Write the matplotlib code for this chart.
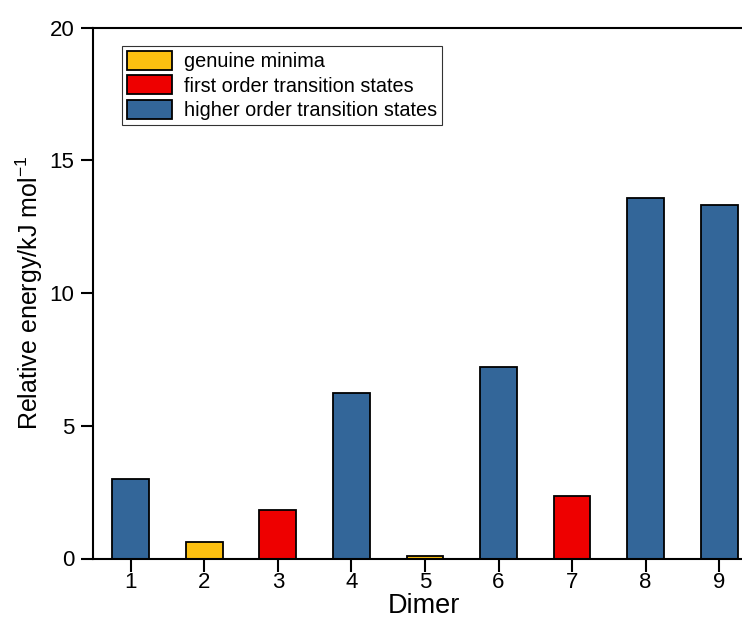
import numpy as np
import matplotlib.pyplot as plt
from matplotlib.patches import Patch

plt.rcParams['font.family'] = ['Liberation Sans', 'DejaVu Sans']

# Datos
dimers = [1, 2, 3, 4, 5, 6, 7, 8, 9]
energies = [2.98, 0.63, 1.83, 6.23, 0.11, 7.20, 2.36, 13.58, 13.33]
# 0 = mínimo, 1 = estado de transición de primer orden, 2 = orden superior
kinds = [2, 0, 1, 2, 0, 2, 1, 2, 2]

labels = ['genuine minima', 'first order transition states',
          'higher order transition states']
colors = ['#FCC010', '#EE0000', '#336699']

fig = plt.figure(figsize=(7.42, 6.42), dpi=100)
ax = fig.add_axes([92.5 / 742, 83.5 / 642, 662 / 742, 531 / 642])

bar_colors = [colors[k] for k in kinds]
ax.bar(dimers, energies, width=0.5, color=bar_colors,
       edgecolor='black', linewidth=1.3, zorder=2)

ax.set_xlim(0.48, 9.48)
ax.set_ylim(0, 20)
ax.set_xticks(dimers)
ax.set_yticks([0, 5, 10, 15, 20])
ax.tick_params(direction='out', length=9, width=1.5, labelsize=16)
ax.tick_params(axis='x', pad=1)
ax.tick_params(axis='y', pad=4)

for side in ['left', 'bottom', 'top', 'right']:
    ax.spines[side].set_linewidth(1.5)

ax.set_xlabel('Dimer', fontsize=19.5, labelpad=0)
ax.set_ylabel('Relative energy/kJ mol$^{\\mathregular{-1}}$', fontsize=18, labelpad=3)

handles = [Patch(facecolor=c, edgecolor='black', linewidth=1.3) for c in colors]
leg = ax.legend(handles, labels, loc='upper left', bbox_to_anchor=(0.045, 0.965),
                fontsize=14.3, frameon=True, fancybox=False, edgecolor='black',
                handlelength=2.25, handleheight=1.1, handletextpad=0.6,
                labelspacing=0.2, borderpad=0.25, borderaxespad=0)
leg.get_frame().set_linewidth(0.8)

fig.savefig('out.png', dpi=100)
